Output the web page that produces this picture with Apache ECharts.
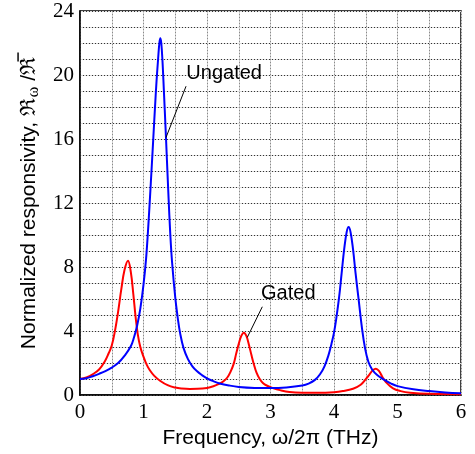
<!DOCTYPE html>
<html><head><meta charset="utf-8">
<script src="https://cdn.jsdelivr.net/npm/echarts@6/dist/echarts.min.js"></script>
<style>html,body{margin:0;padding:0;background:#fff}#c{width:475px;height:454px}</style>
</head><body><div id="c"></div>
<script>
// Ungated responsivity (blue) [frequency THz, normalized responsivity]
const ungated = [[0,1.0],[0.1,1.05],[0.2,1.18],[0.3,1.33],[0.4,1.5],[0.5,1.72],[0.6,2.0],[0.7,2.45],[0.8,3.05],[0.85,3.6],[0.9,4.35],[0.95,5.4],[1.0,6.9],[1.04,8.5],[1.07,10.2],[1.1,12.2],[1.13,14.3],[1.155,16.1],[1.18,17.9],[1.205,19.6],[1.23,21.0],[1.25,22.0],[1.265,22.3],[1.28,22.0],[1.3,20.8],[1.32,19.1],[1.345,16.9],[1.37,14.6],[1.395,12.3],[1.42,10.2],[1.45,8.3],[1.5,6.1],[1.54,4.8],[1.575,3.9],[1.63,2.95],[1.7,2.25],[1.77,1.8],[1.84,1.5],[1.92,1.25],[2.0,1.05],[2.1,0.87],[2.2,0.73],[2.35,0.6],[2.5,0.51],[2.75,0.45],[3.0,0.44],[3.25,0.48],[3.5,0.6],[3.6,0.72],[3.7,0.95],[3.78,1.3],[3.85,1.8],[3.91,2.45],[3.96,3.2],[4.0,3.9],[4.04,4.9],[4.08,6.1],[4.12,7.6],[4.16,9.1],[4.2,10.2],[4.23,10.5],[4.26,10.2],[4.3,9.1],[4.34,7.6],[4.39,5.9],[4.44,4.2],[4.49,2.9],[4.54,2.1],[4.6,1.6],[4.68,1.25],[4.78,0.98],[4.9,0.72],[5.0,0.56],[5.25,0.36],[5.5,0.25],[5.75,0.17],[6.0,0.12]];
// Gated responsivity (red)
const gated = [[0,1.0],[0.1,1.1],[0.2,1.3],[0.3,1.6],[0.39,2.1],[0.45,2.6],[0.5,3.1],[0.55,4.0],[0.6,5.2],[0.65,6.6],[0.7,7.8],[0.756,8.4],[0.8,7.7],[0.84,6.3],[0.875,4.9],[0.91,3.8],[0.95,3.0],[1.0,2.4],[1.05,1.9],[1.1,1.55],[1.17,1.2],[1.26,0.9],[1.38,0.62],[1.5,0.47],[1.6,0.41],[1.73,0.38],[1.85,0.39],[2.0,0.45],[2.1,0.55],[2.19,0.7],[2.26,0.87],[2.32,1.1],[2.37,1.45],[2.42,1.95],[2.46,2.6],[2.5,3.2],[2.54,3.7],[2.58,3.9],[2.62,3.7],[2.66,3.15],[2.7,2.5],[2.74,1.9],[2.78,1.4],[2.83,1.0],[2.88,0.76],[2.94,0.6],[3.05,0.42],[3.15,0.31],[3.3,0.2],[3.5,0.15],[3.75,0.14],[4.0,0.18],[4.14,0.25],[4.3,0.4],[4.42,0.65],[4.51,1.05],[4.56,1.3],[4.61,1.55],[4.66,1.65],[4.71,1.5],[4.76,1.15],[4.82,0.8],[4.93,0.42],[5.05,0.25],[5.2,0.15],[5.5,0.08],[6.0,0.06]];
// Annotation labels [x, y, text] and leader lines [[x1,y1],[x2,y2]]
const labelUngated = [2.27, 20.1, 'Ungated'];
const leaderUngated = [[1.67, 19.3], [1.354, 16.09]];
const labelGated = [3.28, 6.35, 'Gated'];
const leaderGated = [[2.871, 5.52], [2.635, 3.61]];
const xTicks = [0, 6, 1];
const yTicks = [0, 24, 4];

const chart = echarts.init(document.getElementById('c'), null, {renderer: 'canvas'});
const serif = 'Liberation Serif';
const sans = 'Liberation Sans';
const grid = {left: 80, top: 11, right: 14, bottom: 56, show: true, borderColor: '#000', borderWidth: 1.5, backgroundColor: 'transparent'};
function xAx(main) {
  return {
    type: 'value', min: xTicks[0], max: xTicks[1], interval: xTicks[2],
    name: main ? 'Frequency, ω/2π (THz)' : '', nameLocation: 'middle', nameGap: 26,
    nameTextStyle: {fontFamily: sans, fontSize: 21, color: '#000'},
    axisLine: {show: main, lineStyle: {color: '#000', width: 1.5}},
    axisTick: {show: false},
    axisLabel: {show: main, fontFamily: serif, fontSize: 21, color: '#000', margin: 7},
    splitLine: {show: true, lineStyle: main ? {color: '#cfcfcf', width: 1} : {color: '#8a8a8a', width: 1, type: [1, 2]}},
    minorTick: {show: false, splitNumber: 2},
    minorSplitLine: {show: true, lineStyle: main ? {color: '#cfcfcf', width: 1} : {color: '#8a8a8a', width: 1, type: [1, 2]}}
  };
}
function yAx(main) {
  return {
    type: 'value', min: yTicks[0], max: yTicks[1], interval: yTicks[2],
    name: main ? 'Normalized responsivity, {r|ℜ}{s|ω}{n| /}{r|ℜ\u0305}' : '',
    nameLocation: 'middle', nameRotate: 90, nameGap: 37,
    nameTextStyle: {fontFamily: sans, fontSize: 21, color: '#000',
      rich: {r: {fontFamily: 'DejaVu Serif', fontSize: 21, color: '#000'},
             s: {fontFamily: serif, fontSize: 16, color: '#000', padding: [9, 0, 0, 1]},
             n: {fontFamily: sans, fontSize: 21, color: '#000'}}},
    axisLine: {show: main, lineStyle: {color: '#000', width: 1.5}},
    axisTick: {show: false},
    axisLabel: {show: main, fontFamily: serif, fontSize: 21, color: '#000', margin: 6},
    splitLine: {show: true, lineStyle: main ? {color: '#dddddd', width: 1} : {color: '#333', width: 1, type: [1, 2]}},
    minorTick: {show: false, splitNumber: 4},
    minorSplitLine: {show: true, lineStyle: main ? {color: '#dddddd', width: 1} : {color: '#333', width: 1, type: [1, 2]}}
  };
}
const option = {
  animation: false,
  backgroundColor: '#fff',
  grid: grid,
  xAxis: [xAx(true), xAx(false)],
  yAxis: [yAx(true), yAx(false)],
  series: [
    {name: 'Gated', type: 'line', data: gated, showSymbol: false, smooth: 0.4,
     lineStyle: {color: '#ff0000', width: 2}, z: 3,
     markLine: {silent: true, symbol: 'none', label: {show: false}, lineStyle: {color: '#000', width: 1, type: 'solid'},
       data: [[{coord: leaderGated[0]}, {coord: leaderGated[1]}]]}},
    {name: 'Ungated', type: 'line', data: ungated, showSymbol: false, smooth: 0.4,
     lineStyle: {color: '#0000ff', width: 2}, z: 4,
     markLine: {silent: true, symbol: 'none', label: {show: false}, lineStyle: {color: '#000', width: 1, type: 'solid'},
       data: [[{coord: leaderUngated[0]}, {coord: leaderUngated[1]}]]}},
    {name: 'labels', type: 'scatter', symbolSize: 0, z: 5, silent: true,
     itemStyle: {opacity: 1},
     data: [labelUngated, labelGated],
     label: {show: true, position: 'inside', formatter: p => p.data[2], fontFamily: sans, fontSize: 20, color: '#000', opacity: 1}}
  ]
};
chart.setOption(option);
</script></body></html>
